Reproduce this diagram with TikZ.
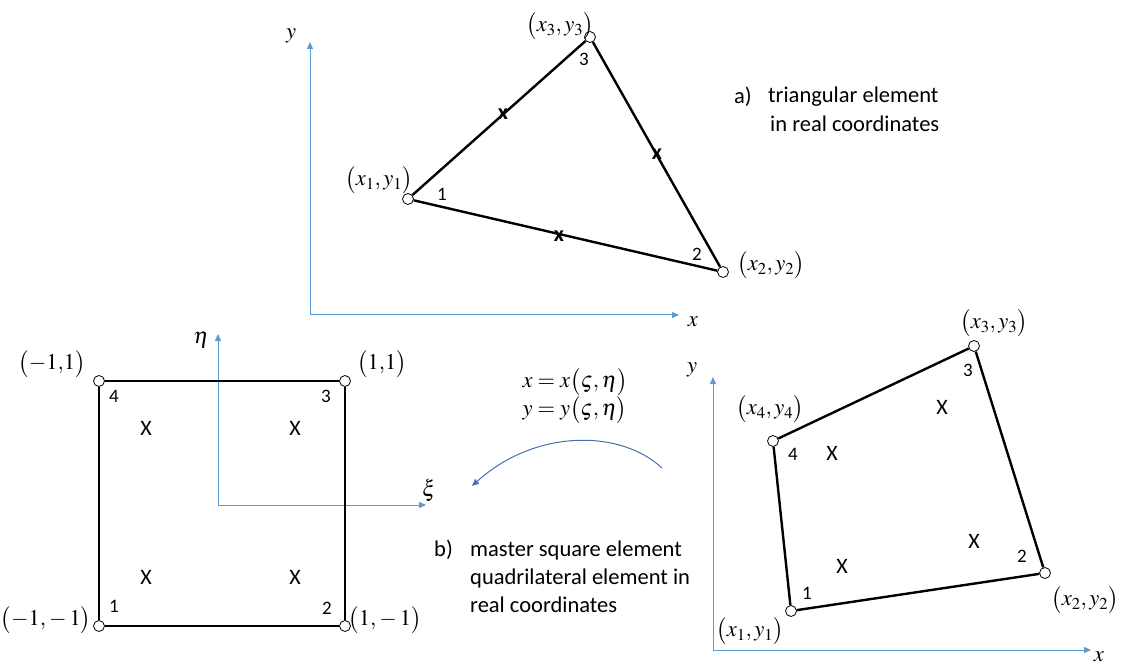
\documentclass[tikz,border=0pt]{standalone}
\usepackage{mathptmx}
\usepackage{fontspec}
\setmainfont{Liberation Serif}
\newfontfamily\carl{Carlito}
\usetikzlibrary{arrows.meta}
\definecolor{axblue}{RGB}{91,155,213}
\definecolor{curveblue}{RGB}{68,114,176}
\tikzset{
  vtx/.style={circle,draw,fill=white,line width=0.8pt,inner sep=0pt,minimum size=11pt},
  elem/.style={line width=2.4pt},
  axis/.style={axblue,line width=1pt,-{Triangle[length=7pt,width=6pt]}},
  coordlbl/.style={font=\fontsize{22.5}{26}\selectfont,inner sep=0pt},
  numlbl/.style={font=\carl\fontsize{19}{22}\selectfont,inner sep=0pt},
  xmk/.style={font=\carl\fontsize{22}{24}\selectfont,inner sep=0pt},
  edgex/.style={font=\carl\bfseries\fontsize{22}{24}\selectfont,inner sep=0pt},
  txt/.style={font=\carl\fontsize{22.5}{26}\selectfont,anchor=west,inner sep=0pt},
}
\begin{document}
\begin{tikzpicture}[x=1pt,y=-1pt]
\useasboundingbox (0,0) rectangle (1128,671);
\fill[white] (0,0) rectangle (1128,671);

% ---------- a) triangle ----------
\coordinate (ta0) at (310,315);
\coordinate (tay) at (310,42);
\coordinate (tax) at (679,315);
\draw[axis] (ta0) -- (tay);
\draw[axis] (ta0) -- (tax);
\node[coordlbl] (tylbl) at (291,36) {$y$};
\node[coordlbl] (txlbl) at (693,322) {$x$};

\node[vtx] (t1) at (408,199) {};
\node[vtx] (t2) at (723,272) {};
\node[vtx] (t3) at (590,37) {};
\draw[elem] (t1) -- (t3) -- (t2) -- (t1);

\node[coordlbl] (t3lbl) at (560,26) {$\bigl(x_3,y_3\bigr)$};
\node[coordlbl] (t1lbl) at (379,180) {$\bigl(x_1,y_1\bigr)$};
\node[coordlbl] (t2lbl) at (771,265) {$\bigl(x_2,y_2\bigr)$};
\node[numlbl] (t3n) at (584,59) {3};
\node[numlbl] (t1n) at (442,194) {1};
\node[numlbl] (t2n) at (697,254) {2};

\node[edgex] (tx13) at (503,114) {x};
\node[edgex] (tx32) at (657,154) {x};
\node[edgex] (tx12) at (559,236) {x};

\node[txt] (ta) at (734,97) {a)};
\node[txt] (tat1) at (768,97) {triangular element};
\node[txt] (tat2) at (770,124) {in real coordinates};

% ---------- master square ----------
\coordinate (sa0) at (218,505);
\coordinate (say) at (218,334);
\coordinate (sax) at (426,505);
\draw[axis] (sa0) -- (say);
\draw[axis] (sa0) -- (sax);
\node[coordlbl] (setalbl) at (201,340) {$\eta$};
\node[coordlbl] (sxilbl) at (429,490) {$\xi$};

\node[vtx] (s1) at (99,626) {};
\node[vtx] (s2) at (345,626) {};
\node[vtx] (s3) at (345,381) {};
\node[vtx] (s4) at (99,381) {};
\draw[elem] (s1) -- (s2) -- (s3) -- (s4) -- (s1);

\node[coordlbl] (s4lbl) at (52,364) {$\bigl(-1{,}1\bigr)$};
\node[coordlbl] (s3lbl) at (382,364) {$\bigl(1{,}1\bigr)$};
\node[coordlbl] (s1lbl) at (46,620) {$\bigl(-1{,}-1\bigr)$};
\node[coordlbl] (s2lbl) at (385,620) {$\bigl(1{,}-1\bigr)$};
\node[numlbl] (s4n) at (114,396) {4};
\node[numlbl] (s3n) at (326,396) {3};
\node[numlbl] (s1n) at (114,606) {1};
\node[numlbl] (s2n) at (327,608) {2};

\node[xmk] (sx4) at (146,428) {X};
\node[xmk] (sx3) at (295,428) {X};
\node[xmk] (sx1) at (146,577) {X};
\node[xmk] (sx2) at (295,577) {X};

% ---------- mapping ----------
\node[coordlbl] (mapx) at (575,382) {$x=x\bigl(\varsigma,\eta\bigr)$};
\node[coordlbl] (mapy) at (575,410) {$y=y\bigl(\varsigma,\eta\bigr)$};
\coordinate (cs) at (662,468);
\coordinate (ce) at (472,486);
\draw[curveblue,line width=1pt,-{Triangle[length=7pt,width=6pt]}] (cs) .. controls (620,429) and (535,429) .. (ce);

\node[txt] (tb) at (434,550) {b)};
\node[txt] (tbt1) at (470,550) {master square element};
\node[txt] (tbt2) at (470,578) {quadrilateral element in};
\node[txt] (tbt3) at (470,605) {real coordinates};

% ---------- quadrilateral ----------
\coordinate (qa0) at (713,650);
\coordinate (qay) at (713,377);
\coordinate (qax) at (1091,650);
\draw[axis] (qa0) -- (qay);
\draw[axis] (qa0) -- (qax);
\node[coordlbl] (qylbl) at (692,370) {$y$};
\node[coordlbl] (qxlbl) at (1099,657) {$x$};

\node[vtx] (q1) at (791,611) {};
\node[vtx] (q2) at (1045,573) {};
\node[vtx] (q3) at (974,346) {};
\node[vtx] (q4) at (773,441) {};
\draw[elem] (q1) -- (q2) -- (q3) -- (q4) -- (q1);

\node[coordlbl] (q3lbl) at (994,323) {$\bigl(x_3,y_3\bigr)$};
\node[coordlbl] (q4lbl) at (770,409) {$\bigl(x_4,y_4\bigr)$};
\node[coordlbl] (q1lbl) at (750,631) {$\bigl(x_1,y_1\bigr)$};
\node[coordlbl] (q2lbl) at (1085,600) {$\bigl(x_2,y_2\bigr)$};
\node[numlbl] (q3n) at (968,370) {3};
\node[numlbl] (q4n) at (793,454) {4};
\node[numlbl] (q1n) at (807,593) {1};
\node[numlbl] (q2n) at (1022,556) {2};

\node[xmk] (qx3) at (942,407) {X};
\node[xmk] (qx4) at (832,453) {X};
\node[xmk] (qx2) at (974,541) {X};
\node[xmk] (qx1) at (842,566) {X};
\end{tikzpicture}
\end{document}
